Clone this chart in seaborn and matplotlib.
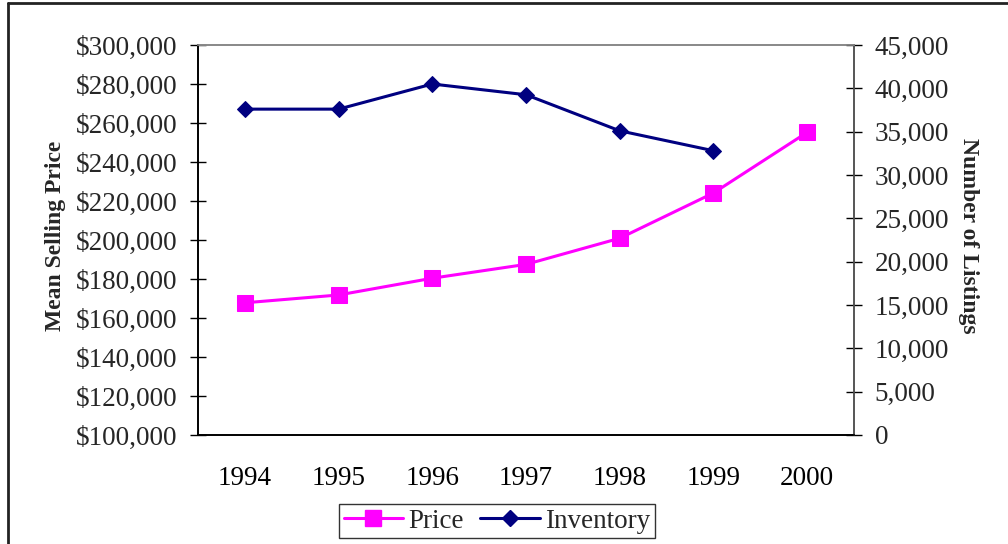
import numpy as np
import pandas as pd
import matplotlib
matplotlib.use("Agg")
import matplotlib.pyplot as plt
from matplotlib.lines import Line2D
from matplotlib.ticker import FuncFormatter, FixedLocator, MultipleLocator
import seaborn as sns

years = ["1994", "1995", "1996", "1997", "1998", "1999", "2000"]
price = [167800, 171800, 180400, 187500, 200900, 224100, 255200]
inventory = [37600, 37600, 40500, 39260, 35100, 32800, np.nan]

sns.set_theme(style="white")
plt.rcParams["font.family"] = ["Liberation Serif", "DejaVu Serif"]

df = pd.DataFrame({"pos": np.arange(len(years)), "Year": years,
                   "Price": price, "Inventory": inventory})

fig = plt.figure(figsize=(10.08, 5.44), dpi=100)
ax = fig.add_axes([198/1008, 1-435/544, (854-198)/1008, (435-45)/544])
ax2 = ax.twinx()

pink = "#FF00FF"
navy = "#000080"
fs = 19.5

sns.lineplot(data=df, x="pos", y="Price", ax=ax, color=pink, marker="s",
             markersize=11.5, markeredgecolor=pink, linewidth=2.2)
sns.lineplot(data=df.dropna(), x="pos", y="Inventory", ax=ax2, color=navy, marker="D",
             markersize=8, markeredgecolor=navy, linewidth=2.2)

ax.set_xlim(-0.5, len(years) - 0.5)
ax.set_ylim(100000, 300000)
ax2.set_ylim(0, 45000)
ax.yaxis.set_major_locator(MultipleLocator(20000))
ax2.yaxis.set_major_locator(MultipleLocator(5000))
ax.yaxis.set_major_formatter(FuncFormatter(lambda v, p: f"${v:,.0f}"))
ax2.yaxis.set_major_formatter(FuncFormatter(lambda v, p: f"{v:,.0f}"))

ax.xaxis.set_major_locator(FixedLocator(list(range(len(years)))))
ax.set_xticklabels(years)
ax.xaxis.set_minor_locator(FixedLocator([i - 0.5 for i in range(len(years) + 1)]))
ax.tick_params(axis="x", which="major", length=0, pad=22, labelsize=fs, colors="black")
ax.tick_params(axis="x", which="minor", length=12, width=1, direction="inout", color="black")
ax.tick_params(axis="y", length=12, width=1, direction="inout", pad=9, labelsize=fs,
               color="black", left=True)
ax2.tick_params(axis="y", length=12, width=1, direction="inout", pad=9, labelsize=fs,
                color="black", right=True)

ax.set_xlabel("")
ax.set_ylabel("")
ax2.set_ylabel("")

for a in (ax, ax2):
    a.spines["left"].set_color("black")
    a.spines["bottom"].set_color("black")
    a.spines["top"].set_color("#888888")
    a.spines["right"].set_color("#555555")
    for s in a.spines.values():
        s.set_linewidth(1.2)
        s.set_visible(True)
    a.grid(False)

fig.text(55/1008, 1-236/544, "Mean Selling Price", rotation=90, ha="center", va="center",
         fontsize=17, fontweight="bold")
fig.text(968/1008, 1-236/544, "Number of Listings", rotation=270, ha="center", va="center",
         fontsize=17, fontweight="bold")

handles = [Line2D([], [], color=pink, marker="s", markersize=11.5, linewidth=2.2),
           Line2D([], [], color=navy, marker="D", markersize=8, linewidth=2.2)]
leg = fig.legend(handles, ["Price", "Inventory"], loc="center", bbox_to_anchor=(497/1008, 1-521/544),
                 ncol=2, fontsize=fs, frameon=True, fancybox=False, handlelength=2.2,
                 handletextpad=0.2, columnspacing=0.6, borderpad=0.15, borderaxespad=0)
leg.get_frame().set_edgecolor("black")
leg.get_frame().set_linewidth(1.0)

# outer chart border (extends past image right/bottom)
fig.add_artist(Line2D([7.7/1008, 7.7/1008], [-0.05, 1-2.5/544], transform=fig.transFigure,
                      color="#222222", linewidth=2))
fig.add_artist(Line2D([7.7/1008, 1.05], [1-2.5/544, 1-2.5/544], transform=fig.transFigure,
                      color="#222222", linewidth=2))

fig.savefig("out.png", dpi=100)
